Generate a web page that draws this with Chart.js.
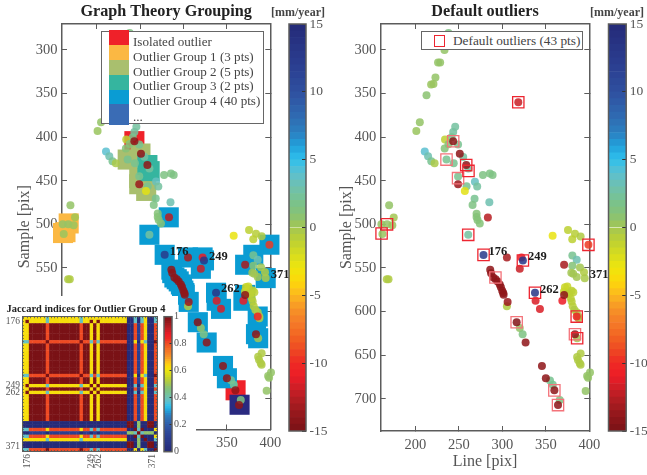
<!DOCTYPE html>
<html>
<head>
<meta charset="utf-8">
<title>Graph Theory Grouping</title>
<script src="https://cdn.jsdelivr.net/npm/chart.js@4/dist/chart.umd.min.js"></script>
<style>
  html, body { margin: 0; padding: 0; background: #fff; }
  #page { position: relative; width: 647px; height: 475px; overflow: hidden; font-family: "Liberation Serif", serif; }
  canvas { position: absolute; }
  .mask { position: absolute; background: #fff; }
  .legend { position: absolute; background: #fff; border: 1.5px solid #666; box-sizing: border-box; color: #444; font-size: 13.1px; }
  .legend span { position: absolute; white-space: nowrap; line-height: 15px; }
  .legend i { position: absolute; display: block; }
</style>
</head>
<body>
<div id="page">
  <canvas id="leftPanel" width="300" height="475" style="left:0;top:0"></canvas>
  <div class="mask" style="left:0;top:296px;width:178px;height:179px"></div>
  <div class="mask" style="left:0;top:420px;width:196px;height:55px"></div>
  <div class="legend" id="leftLegend" style="left:100.5px;top:31px;width:163px;height:93px"></div>
  <canvas id="leftBar" width="68" height="475" style="left:264px;top:0"></canvas>
  <canvas id="inset" width="172" height="179" style="left:0;top:296px"></canvas>
  <canvas id="insetBar" width="45" height="179" style="left:150px;top:296px"></canvas>
  <canvas id="rightPanel" width="300" height="475" style="left:320px;top:0"></canvas>
  <div class="legend" id="rightLegend" style="left:421px;top:31px;width:161.5px;height:18.5px;font-size:13.3px"></div>
  <canvas id="rightBar" width="68" height="475" style="left:582.5px;top:0"></canvas>
</div>
<script>
// ================= DATA =================
const lineX = [238,233.4,226,228.4,223,220.7,218,212.7,318.3,205,201,245.7,243.4,241.5,234,249,233.6,238,
  210.7,214.5,218.2,222,235.7,254.9,260.7,244,249,258.8,256.8,268.4,271,277.6,285.6,288.7,268,265.7,285,
  270.3,270.3,271.4,274,260.7,160.8,167.3,175,173.4,162,169.7,357.8,375.5,383.5,390,380.4,
  380.5,385.5,380.5,389.3,379.3,381.5,385.5,393.9,394.7,167,169,
  372,374.7,379.7,381.6,370.9,374,377,378.6,379.7,380.9,382.8,385.5,387.4,387.4,
  305.2,320,323.3,354.8,358,366,386,390,386,387,389,390,400.8,397.5,398.6,395.8,
  243.4,251,258.4,249,283.3,399,278.3,305.2,322,323.6,320,371,286,287,289.5,292.2,294.5,297,298.3,299.8,301,301.4,306,
  337.5,338.2,343.2,369,371,385.5,383.5,316.4,326.7,345.5,350,359.8,364];
const sampleY = [280.5,300,314.5,314.5,331.5,339,339.5,352,360,383,393,388,394,400,402.7,408.4,413,408,
  416.5,422,427.6,430,425.7,422.6,436,430,445,456.3,461.7,451,456.7,443.3,441.8,443.3,470.5,477.8,474.7,
  487.7,491.6,495,499,512,500,500,492,501,511,478,513,506.5,510.7,513.8,517,
  535.6,540.6,547.5,549.4,555.6,556.7,560.5,555,561.7,563,563,
  572,571.3,576,577.8,577,579.7,580,584.7,588.5,594,598,600.8,605.7,607.7,
  594,619,626,679,684,701.5,630.7,648,652,655.5,659.4,661,670,674,676,691,
  404.6,419,432,454,492,523.4,535,538,538,541.4,551,546.4,552,556,561,563,565.5,569,572,576,578.8,580.8,589,
  578.5,587.7,597,587.7,581,605.8,626,612.3,635.6,662.5,676.6,690.4,707.3];
const velocity = [1.5,0.5,0.5,0.5,0.5,0.3,0.3,0.8,-12,0.5,0.3,2.5,2.5,2,-1,2,1,1,
  4,3,2,-0.3,2,2.5,2.5,2,2,2,-2.5,3.5,2.5,1.5,1.5,1.5,2,1.5,3,
  1,1,1,1,2.5,0.5,0.5,0,0.3,0.3,0.5,-2.8,-1,-0.8,-0.5,-1,
  2,3,1,0,0,0,0,-0.5,-0.3,-0.5,-0.5,
  -1.5,-1.5,-1,-1,-1.5,-1,-1,-1,-0.8,-0.8,-0.5,-0.5,-0.3,-0.3,
  -0.5,0.5,1.5,2,2,1.5,0,-0.5,-0.5,-0.5,-0.5,-0.5,0.5,0.5,0.5,0.5,
  -14,-14,-14,-13.5,-12.5,-9.5,12.5,-13,-11,13,-12,-13,-14,-14,-14,-14,-14,-14,-14,-14,-14,-14,-13.5,
  13,-11.5,-11.5,-11,-14,-10.5,-14,-14.5,-14,-14,-14,-14,-14];

// left panel group squares
const groupNames = ["Isolated outlier","Outlier Group 1 (3 pts)","Outlier Group 2 (5 pts)","Outlier Group 3 (2 pts)","Outlier Group 4 (40 pts)","..."];
const groupColors = ["#ef2129","#fbb843","#a9bf6e","#35b59f","#0a9cd3","#3a6cb5"];
const isolatedX = [243.4,360];
const isolatedY = [404.6,690.4];
const group1X = [167.7,164,161.2];
const group1Y = [499,509,510];
const group2X = [235.7,250.4,249,257,249];
const group2Y = [425.7,418.8,454,461.7,447];
const group3X = [258.4,261];
const group3Y = [432,439];
const group4X = [283,260.7,399,278.3,305.2,322,323.6,320,371,380.4,394.7,286,287,289.5,292.2,294.5,297,298.3,299.8,301,301.4,306,
  316.5,326.7,337.5,338.2,343.2,371,369,385.5,383.5,386,345.5,350];
const group4Y = [492,512,523.4,535,538,538,541.4,551,546.4,535,561.7,552,556,561,563,565.5,569,572,576,578.8,580.8,589,
  612.3,635.6,578.5,587.7,597,581,587.7,605.8,626,630.7,662.5,676.6];
const group5X = [364.6];
const group5Y = [707];

// right panel default outlier squares
const defaultX = [318.3,258.4,261,167.3,161,260.7,399,278.3,323.6,337.5,385.5,386];
const defaultY = [360,432,438.7,500,510.5,512,523.5,535,541.4,578.5,605.8,630.7];
const fadedX = [243.4,235.7,249,292,316.4,383.5,359.8,364];
const fadedY = [404.6,425.7,447,561,612.3,626,690.4,707.3];

// labelled points
const pointTags = ["176","249","262","371"];
const pointTagX = [278.3,323.6,337.5,394.7];
const pointTagY = [535,541.4,578.5,561.7];

// axes
const xTicks = [200,250,300,350,400];
const yTicks = [300,350,400,450,500,550,600,650,700];
const barTicks = [-15,-10,-5,0,5,10,15];
const insetBarTicks = [0,0.2,0.4,0.6,0.8,1];

// Jaccard matrix, one class letter per row of the group (40 rows)
const jaccardClass = "EYAAAAAO" + "AAAAAAAAAO" + "AAYAY" + "AAAAAAAA" + "NNPBPGNNR";
const classOrder = "EYAONPBGR";
const jaccardByClass = [
  [.62],
  [.62,1],
  [.62,.62,1],
  [.38,.38,.8,1],
  [0,0,0,0,1],
  [.38,.38,.8,.62,0,1],
  [0,0,.1,0,.48,.38,1],
  [.62,.62,.62,.38,0,0,.48,1],
  [.38,.38,.8,1,0,.62,0,.38,1]
];
const insetTickIdx = [1,20,22,38];
const insetTickText = ["176","249","262","371"];

// colour scale, velocity in mm/year
const scaleValues = [-15,-14,-13,-12,-11,-10,-9,-8,-7,-6,-5,-4,-3,-2,-1,0,1,2,3,4,5,6,7,8,10,12,15];
const scaleColors = ["#7a1216","#8f161a","#a81c20","#c81f26","#ec1c27","#ee2a24","#ee4a23","#f26522","#f47b28","#f79427","#fbb81f","#fdd80a",
  "#eee50d","#d6dc1f","#bdd033","#a3c653","#85c278","#78c290","#6fc0b0","#5cc0d0","#2fc0ec","#21a0da","#2b7fc0","#2f6db3","#2f4f9f","#2a3e90","#252a78"];

// ================= COLOUR =================
function hexToRgb(h) {
  return [1, 3, 5].map(i => parseInt(h.substr(i, 2), 16));
}

function colorFor(v, alpha) {
  let i = 0;
  while (i < scaleValues.length - 2 && v > scaleValues[i + 1]) i++;
  let t = (v - scaleValues[i]) / (scaleValues[i + 1] - scaleValues[i]);
  t = Math.max(0, Math.min(1, t));
  let a = hexToRgb(scaleColors[i]), b = hexToRgb(scaleColors[i + 1]);
  let c = a.map((p, k) => Math.round(p + (b[k] - p) * t));
  return `rgba(${c[0]},${c[1]},${c[2]},${alpha === undefined ? 1 : alpha})`;
}

function toXY(xs, ys) {
  return xs.map((x, i) => ({ x: x, y: ys[i] }));
}

// ================= SHARED OPTIONS =================
const SERIF = "'Liberation Serif', serif";
const AXIS = "#5c5c5c";
const TEXT = "#555";

function fixedTicks(list) {
  return scale => { scale.ticks = list.map(v => ({ value: v })); };
}

function mirrorScale(pos, min, max, list, reverse) {
  return {
    type: "linear", position: pos, min: min, max: max, reverse: !!reverse,
    afterBuildTicks: fixedTicks(list),
    afterFit: s => { if (pos === "top") s.height = 0; else s.width = 0; },
    ticks: { display: false },
    border: { color: AXIS, width: 1.5 },
    grid: { drawOnChartArea: false, color: AXIS, tickLength: -5, tickWidth: 1 }
  };
}

function panelOptions(cfg) {
  return {
    responsive: false, animation: false, devicePixelRatio: 1,
    layout: { padding: { left: 0, right: cfg.padRight, top: 0, bottom: 0 } },
    plugins: {
      legend: { display: false }, tooltip: { enabled: false },
      title: {
        display: true, text: cfg.title, color: "#222", fullSize: false,
        font: { family: SERIF, size: 16.2, weight: "bold", lineHeight: 1.2 },
        padding: { top: 1.8, bottom: 2.76 }
      }
    },
    scales: {
      x: {
        type: "linear", position: "bottom", min: 160, max: 400,
        afterBuildTicks: fixedTicks(xTicks),
        afterFit: s => { s.height = cfg.xHeight; },
        border: { color: AXIS, width: 1.5 },
        grid: { drawOnChartArea: false, color: AXIS, tickLength: -5, tickWidth: 1 },
        ticks: { color: TEXT, padding: 10, maxRotation: 0, autoSkip: false, font: { family: SERIF, size: 14.5 } },
        title: cfg.xTitle ? {
          display: true, text: cfg.xTitle, color: TEXT,
          font: { family: SERIF, size: 16, lineHeight: 1.2 }, padding: { top: 0, bottom: 4 }
        } : { display: false }
      },
      y: {
        type: "linear", position: "left", reverse: true, min: 270.2, max: cfg.yMax,
        afterBuildTicks: fixedTicks(yTicks),
        afterFit: s => { s.width = cfg.yWidth; },
        border: { color: AXIS, width: 1.5 },
        grid: { drawOnChartArea: false, color: AXIS, tickLength: -5, tickWidth: 1 },
        ticks: { color: TEXT, padding: 9.5, autoSkip: false, font: { family: SERIF, size: 14.5 } },
        title: {
          display: true, text: "Sample [pix]", color: TEXT,
          font: { family: SERIF, size: 16, lineHeight: 1.2 }, padding: { top: cfg.yTitlePad, bottom: 0 }
        }
      },
      xTop: mirrorScale("top", 160, 400, xTicks),
      yRight: mirrorScale("right", 270.2, cfg.yMax, yTicks, true)
    }
  };
}

// number tags beside the four reference points
const tagPlugin = {
  id: "pointTags",
  afterDatasetsDraw(chart) {
    const { ctx, scales } = chart;
    ctx.save();
    ctx.font = "bold 12.5px " + SERIF;
    ctx.fillStyle = "#1c1c1c";
    ctx.textAlign = "left";
    ctx.textBaseline = "middle";
    pointTags.forEach((t, i) => {
      ctx.fillText(t, scales.x.getPixelForValue(pointTagX[i]) + 5, scales.y.getPixelForValue(pointTagY[i]) - 3.5);
    });
    ctx.restore();
  }
};

const framePlugin = {
  id: "barFrame",
  afterDraw(chart) {
    const a = chart.chartArea, ctx = chart.ctx;
    ctx.save();
    ctx.strokeStyle = AXIS;
    ctx.lineWidth = 1.5;
    ctx.strokeRect(a.left, a.top, a.right - a.left, a.bottom - a.top);
    ctx.restore();
  }
};

// the library paints the first dataset on top, so every list below runs top to bottom
const dotDataset = {
  data: toXY(lineX, sampleY),
  backgroundColor: velocity.map(v => colorFor(v, 0.86)),
  borderWidth: 0, pointRadius: 4, pointStyle: "circle", clip: false
};

function squareSet(xs, ys, color) {
  return { data: toXY(xs, ys), backgroundColor: color, borderWidth: 0, pointRadius: 14.2, pointStyle: "rect", clip: false };
}

// ================= LEFT PANEL =================
new Chart(document.getElementById("leftPanel"), {
  type: "scatter",
  data: {
    datasets: [
      dotDataset,
      squareSet(group5X, group5Y, "#2a2a80"),
      squareSet(group4X, group4Y, groupColors[4]),
      squareSet(group3X, group3Y, groupColors[3]),
      squareSet(group2X, group2Y, groupColors[2]),
      squareSet(group1X, group1Y, groupColors[1]),
      squareSet(isolatedX, isolatedY, groupColors[0])
    ]
  },
  options: panelOptions({ title: "Graph Theory Grouping", padRight: 29.7, xHeight: 45.5, yWidth: 62, yMax: 735.4, yTitlePad: 15, xTitle: "" }),
  plugins: [tagPlugin]
});

// ================= RIGHT PANEL =================
function outlineSet(xs, ys, color) {
  return { data: toXY(xs, ys), backgroundColor: "rgba(0,0,0,0)", borderColor: color, borderWidth: 1.3, pointRadius: 8, pointStyle: "rect", clip: false };
}

new Chart(document.getElementById("rightPanel"), {
  type: "scatter",
  data: {
    datasets: [
      outlineSet(defaultX, defaultY, "#ed2530"),
      outlineSet(fadedX, fadedY, "#f4737a"),
      dotDataset
    ]
  },
  options: panelOptions({ title: "Default outliers", padRight: 30.7, xHeight: 44, yWidth: 60.7, yMax: 737, yTitlePad: 17, xTitle: "Line [pix]" }),
  plugins: [tagPlugin]
});

// ================= LEGENDS =================
const leftLegend = document.getElementById("leftLegend");
const swatchTops = [-2, 13, 28, 43, 57.5, 72];
const swatchHeights = [15.5, 15.5, 15.5, 15, 15, 20.5];
const textTops = [1.5, 16.5, 31.5, 45.5, 60.5, 77];
groupNames.forEach((name, i) => {
  let sw = document.createElement("i");
  sw.style.cssText = `left:7px;top:${swatchTops[i]}px;width:20.5px;height:${swatchHeights[i]}px;background:${groupColors[i]}`;
  leftLegend.appendChild(sw);
  let s = document.createElement("span");
  s.style.cssText = `left:31.5px;top:${textTops[i]}px`;
  s.textContent = name;
  leftLegend.appendChild(s);
});

const rightLegend = document.getElementById("rightLegend");
rightLegend.innerHTML =
  '<i style="left:11.5px;top:3px;width:9.5px;height:9.5px;border:1.3px solid #ed2530"></i>' +
  '<span style="left:31px;top:0.5px">Default outliers (43 pts)</span>';

// ================= COLOUR BARS =================
function barBands(lo, hi, count, valueToScale) {
  let out = [];
  for (let i = 0; i < count; i++) {
    let a = lo + (hi - lo) * i / count, b = lo + (hi - lo) * (i + 1) / count;
    out.push({
      data: [[a, b]],
      yAxisID: "y",
      backgroundColor: colorFor(valueToScale((a + b) / 2)),
      borderWidth: 0, barPercentage: 1, categoryPercentage: 1
    });
  }
  return out;
}

function colourBar(id, cfg) {
  new Chart(document.getElementById(id), {
    type: "bar",
    data: { labels: [""], datasets: barBands(cfg.min, cfg.max, cfg.bands, cfg.map) },
    options: {
      responsive: false, animation: false, devicePixelRatio: 1,
      layout: { padding: { top: cfg.padTop, bottom: cfg.padBottom } },
      plugins: {
        legend: { display: false }, tooltip: { enabled: false },
        title: cfg.title ? {
          display: true, text: cfg.title, color: "#444",
          font: { family: SERIF, size: 12, lineHeight: 1.2 },
          padding: { top: 5.8, bottom: 3.8 }
        } : { display: false }
      },
      scales: {
        x: { display: false, stacked: true },
        gap: {
          type: "linear", axis: "y", position: "left", min: 0, max: 1,
          afterFit: s => { s.width = cfg.padLeft; },
          ticks: { display: false }, grid: { display: false }, border: { display: false }
        },
        y: {
          type: "linear", position: "right", min: cfg.min, max: cfg.max,
          afterBuildTicks: fixedTicks(cfg.ticks),
          afterFit: s => { s.width = cfg.width; },
          border: { display: false },
          grid: { drawOnChartArea: false, color: "#333", tickLength: -cfg.tick, tickWidth: 1, z: 1 },
          ticks: { color: TEXT, padding: cfg.tick + cfg.gap, autoSkip: false, font: { family: SERIF, size: cfg.font }, callback: v => String(v) }
        }
      }
    },
    plugins: [framePlugin]
  });
}

const velocityBar = { min: -15, max: 15, bands: 60, map: v => v, ticks: barTicks, padTop: 0, padBottom: 44, tick: 4, gap: 3.5, font: 13.5, title: "[mm/year]" };
colourBar("leftBar", Object.assign({}, velocityBar, { padLeft: 25, width: 26 }));
colourBar("rightBar", Object.assign({}, velocityBar, { padLeft: 25.5, width: 24.8 }));
colourBar("insetBar", { min: 0, max: 1, bands: 60, map: j => 15 - 30 * j, ticks: insetBarTicks, padLeft: 14, padTop: 20.7, padBottom: 23.3, width: 23, tick: 2.5, gap: 2, font: 10 });

// ================= JACCARD INSET =================
const cells = [], cellColors = [];
const cellCount = jaccardClass.length;
for (let r = 0; r < cellCount; r++) {
  for (let c = 0; c < cellCount; c++) {
    let a = classOrder.indexOf(jaccardClass[r]), b = classOrder.indexOf(jaccardClass[c]);
    let j = a >= b ? jaccardByClass[a][b] : jaccardByClass[b][a];
    cells.push({ x: c, y: r });
    cellColors.push(colorFor(15 - 30 * j));
  }
}
const cellTicks = Array.from({ length: cellCount }, (_, i) => i);

function insetTickLabel(v) {
  let i = insetTickIdx.indexOf(v);
  return i < 0 ? "" : insetTickText[i];
}

function insetEdge(pos, reverse, size) {
  return {
    type: "linear", position: pos, min: -0.5, max: cellCount - 0.5, reverse: reverse,
    afterBuildTicks: fixedTicks(cellTicks),
    afterFit: s => { if (pos === "top") s.height = 0; else s.width = size; },
    ticks: { display: false },
    border: { color: AXIS, width: 1, z: 1 },
    grid: { drawOnChartArea: false, color: "#555", tickLength: -1.6, tickWidth: 0.8, z: 1 }
  };
}

new Chart(document.getElementById("inset"), {
  type: "scatter",
  data: { datasets: [{ data: cells, backgroundColor: cellColors, borderWidth: 0, pointRadius: 2.7, pointStyle: "rect", clip: false }] },
  options: {
    responsive: false, animation: false, devicePixelRatio: 1,
    plugins: {
      legend: { display: false }, tooltip: { enabled: false },
      title: {
        display: true, text: "Jaccard indices for Outlier Group 4", color: "#222",
        font: { family: SERIF, size: 10.4, weight: "bold", lineHeight: 1.2 },
        padding: { top: 6.8, bottom: 1.4 }
      }
    },
    scales: {
      x: {
        type: "linear", position: "bottom", min: -0.5, max: cellCount - 0.5,
        afterBuildTicks: fixedTicks(cellTicks),
        afterFit: s => { s.height = 23.3; },
        border: { color: AXIS, width: 1, z: 1 },
        grid: { drawOnChartArea: false, color: "#555", tickLength: -1.6, tickWidth: 0.8, z: 1 },
        ticks: { color: TEXT, padding: 4, minRotation: 90, maxRotation: 90, autoSkip: false, font: { family: SERIF, size: 9.5 }, callback: insetTickLabel }
      },
      y: {
        type: "linear", position: "left", reverse: true, min: -0.5, max: cellCount - 0.5,
        afterBuildTicks: fixedTicks(cellTicks),
        afterFit: s => { s.width = 22.3; },
        border: { color: AXIS, width: 1, z: 1 },
        grid: { drawOnChartArea: false, color: "#555", tickLength: -1.6, tickWidth: 0.8, z: 1 },
        ticks: { color: TEXT, padding: 4, autoSkip: false, font: { family: SERIF, size: 9.5 }, callback: insetTickLabel }
      },
      xTop: insetEdge("top", false, 0),
      yRight: insetEdge("right", true, 14.5)
    }
  }
});
</script>
</body>
</html>
